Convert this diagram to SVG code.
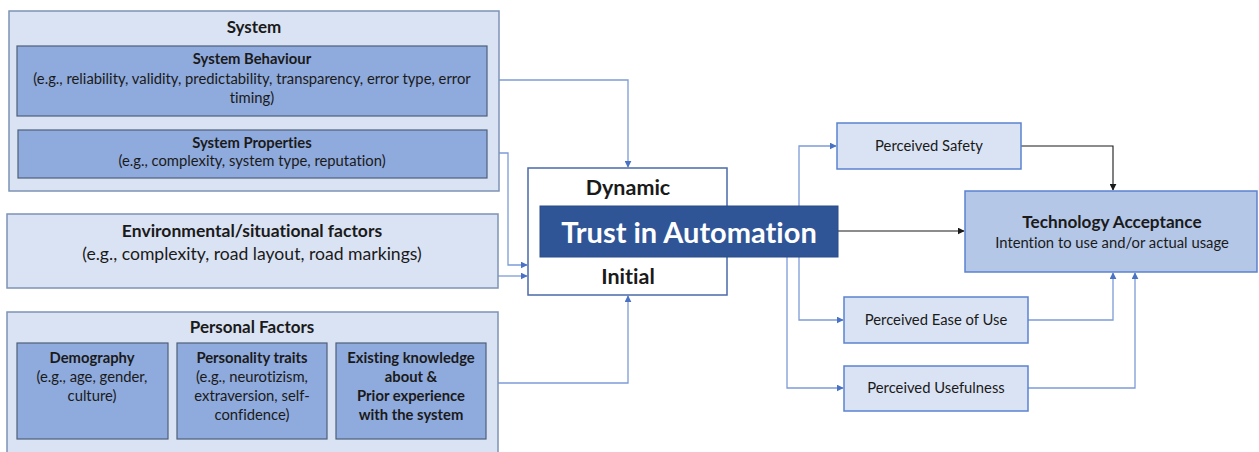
<svg xmlns="http://www.w3.org/2000/svg" width="1259" height="452" viewBox="0 0 1259 452">
  <style>
    text { font-family: Lato, "Open Sans", "Liberation Sans", sans-serif; fill: #1a1a1a; text-anchor: middle; font-variant-ligatures: none; }
    .b { font-weight: bold; }
    .s { font-size: 14.8px; }
    .t { font-size: 17px; }
    .outer { fill: #dae3f3; stroke: #7f93b5; stroke-width: 1.5; }
    .inner { fill: #8faadc; stroke: #4f5f7a; stroke-width: 1.2; }
    .soft { fill: #dae3f3; stroke: #5b82d0; stroke-width: 1.5; }
    .accept { fill: #b4c7e7; stroke: #5b82d0; stroke-width: 1.5; }
    .core { fill: #ffffff; stroke: #4a6aa8; stroke-width: 1.5; }
    .bar { fill: #2f5597; stroke: #2a4c88; stroke-width: 1; }
    .wire { fill: none; stroke: #7d9bd8; stroke-width: 1.3; }
    .wire-k { fill: none; stroke: #1a1a1a; stroke-width: 1.1; }
  </style>
  <defs>
    <marker id="arrowBlue" viewBox="0 0 10 10" refX="9" refY="5" markerWidth="7" markerHeight="7" markerUnits="userSpaceOnUse" orient="auto">
      <path d="M0,0 L10,5 L0,10 z" fill="#4a72c4"/>
    </marker>
    <marker id="arrowBlack" viewBox="0 0 10 10" refX="9" refY="5" markerWidth="7" markerHeight="7" markerUnits="userSpaceOnUse" orient="auto">
      <path d="M0,0 L10,5 L0,10 z" fill="#1a1a1a"/>
    </marker>
  </defs>

  <rect width="1259" height="452" fill="#ffffff"/>

  <!-- connectors -->
  <g id="connectors">
    <path class="wire" d="M487,80 H628 V167" marker-end="url(#arrowBlue)"/>
    <path class="wire" d="M487,153 H508 V265 H527" marker-end="url(#arrowBlue)"/>
    <path class="wire" d="M498,276 H527" marker-end="url(#arrowBlue)"/>
    <path class="wire" d="M498,383 H628 V296" marker-end="url(#arrowBlue)"/>
    <path class="wire" d="M528,233 H540"/>
    <path class="wire" d="M799,206 V146 H836" marker-end="url(#arrowBlue)"/>
    <path class="wire" d="M799,257 V320 H843" marker-end="url(#arrowBlue)"/>
    <path class="wire" d="M787,257 V388 H843" marker-end="url(#arrowBlue)"/>
    <path class="wire-k" d="M838,231 H964" marker-end="url(#arrowBlack)"/>
    <path class="wire-k" d="M1021,146 H1113 V190" marker-end="url(#arrowBlack)"/>
    <path class="wire" d="M1028,320 H1113 V273" marker-end="url(#arrowBlue)"/>
    <path class="wire" d="M1028,388 H1135 V273" marker-end="url(#arrowBlue)"/>
  </g>

  <!-- system group -->
  <g id="system">
    <rect class="outer" x="9" y="11" width="490" height="180"/>
    <text class="b t" x="254" y="33">System</text>
  </g>
  <g id="system-behaviour">
    <rect class="inner" x="17" y="46" width="470" height="70"/>
    <text class="b s" x="252" y="64">System Behaviour</text>
    <text class="s" x="252" y="84">(e.g., reliability, validity, predictability, transparency, error type, error</text>
    <text class="s" x="252" y="103">timing)</text>
  </g>
  <g id="system-properties">
    <rect class="inner" x="18" y="130" width="469" height="48"/>
    <text class="b s" x="252" y="148">System Properties</text>
    <text class="s" x="252" y="166">(e.g., complexity, system type, reputation)</text>
  </g>

  <!-- environment -->
  <g id="environment">
    <rect class="outer" x="7" y="214" width="491" height="74"/>
    <text class="b" x="252" y="237" font-size="17.5">Environmental/situational factors</text>
    <text x="252" y="260" font-size="17.6">(e.g., complexity, road layout, road markings)</text>
  </g>

  <!-- personal factors -->
  <g id="personal">
    <rect class="outer" x="7" y="312" width="491" height="150"/>
    <text class="b t" x="252" y="333">Personal Factors</text>
  </g>
  <g id="demography">
    <rect class="inner" x="17" y="343" width="151" height="96"/>
    <text class="b s" x="92" y="363">Demography</text>
    <text class="s" x="92" y="382">(e.g., age, gender,</text>
    <text class="s" x="92" y="401">culture)</text>
  </g>
  <g id="personality">
    <rect class="inner" x="177" y="343" width="150" height="96"/>
    <text class="b s" x="252" y="363">Personality traits</text>
    <text class="s" x="252" y="382">(e.g., neurotizism,</text>
    <text class="s" x="252" y="401">extraversion, self-</text>
    <text class="s" x="252" y="420">confidence)</text>
  </g>
  <g id="experience">
    <rect class="inner" x="336" y="343" width="150" height="96"/>
    <text class="b s" x="411" y="363">Existing knowledge</text>
    <text class="b s" x="411" y="382">about &amp;</text>
    <text class="b s" x="411" y="401">Prior experience</text>
    <text class="b s" x="411" y="420">with the system</text>
  </g>

  <!-- trust -->
  <g id="trust">
    <rect class="core" x="528" y="168" width="199" height="127"/>
    <text class="b" x="628" y="195" font-size="21.5">Dynamic</text>
    <text class="b" x="628" y="284" font-size="21.5">Initial</text>
    <rect class="bar" x="540" y="206" width="298" height="51"/>
    <text class="b" x="689" y="243" font-size="29" style="fill:#ffffff">Trust in Automation</text>
  </g>

  <!-- perceived factors -->
  <g id="perceived-safety">
    <rect class="soft" x="837" y="123" width="184" height="46"/>
    <text class="s" x="929" y="151">Perceived Safety</text>
  </g>
  <g id="perceived-ease">
    <rect class="soft" x="844" y="297" width="184" height="46"/>
    <text class="s" x="936" y="325">Perceived Ease of Use</text>
  </g>
  <g id="perceived-usefulness">
    <rect class="soft" x="844" y="366" width="184" height="45"/>
    <text class="s" x="936" y="393">Perceived Usefulness</text>
  </g>

  <!-- acceptance -->
  <g id="acceptance">
    <rect class="accept" x="965" y="191" width="292" height="81"/>
    <text class="b" x="1112" y="228" font-size="17.2">Technology Acceptance</text>
    <text class="s" x="1112" y="248">Intention to use and/or actual usage</text>
  </g>
</svg>
